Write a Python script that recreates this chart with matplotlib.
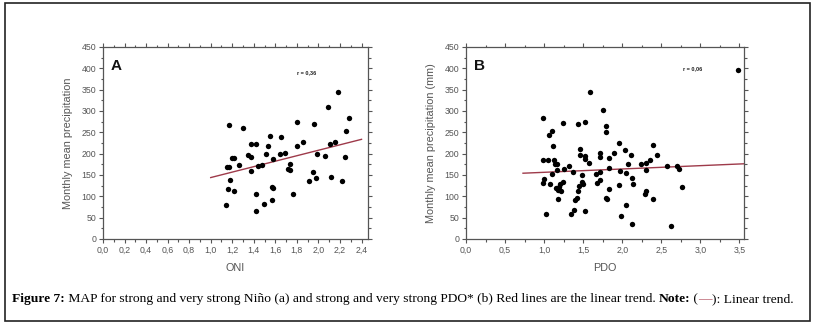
import matplotlib
matplotlib.use("Agg")
import matplotlib.pyplot as plt
import numpy as np
from matplotlib.patches import Rectangle
from matplotlib.ticker import MultipleLocator, FormatStrFormatter

# --- data ---
oni = [1.14, 1.15, 1.17, 1.16, 1.17, 1.18, 1.20, 1.22, 1.22, 1.26, 1.30, 1.35, 1.37,
       1.37, 1.37, 1.42, 1.42, 1.42, 1.44, 1.48, 1.49, 1.51, 1.53, 1.55, 1.57, 1.58,
       1.57, 1.58, 1.64, 1.65, 1.69, 1.72, 1.74, 1.74, 1.76, 1.80, 1.80, 1.86, 1.96,
       1.95, 1.91, 1.98, 1.99, 2.06, 2.09, 2.11, 2.12, 2.15, 2.18, 2.22, 2.25, 2.26, 2.28]
prec_a = [79, 168, 169, 118, 267, 139, 189, 190, 113, 174, 259, 196, 193, 223, 160,
          222, 106, 65, 171, 174, 83, 200, 218, 241, 123, 120, 92, 187, 199, 240, 202,
          163, 175, 161, 106, 275, 219, 227, 269, 156, 136, 144, 200, 194, 310, 222,
          146, 227, 344, 136, 193, 254, 284]

pdo = [0.99, 0.99, 1.05, 0.98, 1.00, 1.02, 1.06, 1.10, 1.08, 1.10, 1.12, 1.13, 1.14,
       1.16, 1.16, 1.15, 1.18, 1.18, 1.19, 1.21, 1.22, 1.24, 1.24, 1.26, 1.32, 1.35,
       1.37, 1.38, 1.40, 1.42, 1.44, 1.44, 1.45, 1.46, 1.46, 1.48, 1.49, 1.50, 1.52,
       1.52, 1.52, 1.53, 1.59, 1.57, 1.67, 1.68, 1.72, 1.72, 1.72, 1.72, 1.76, 1.79,
       1.79, 1.79, 1.81, 1.83, 1.83, 1.83, 1.89, 1.96, 1.96, 1.97, 1.98, 2.04, 2.05,
       2.05, 2.08, 2.11, 2.12, 2.14, 2.13, 2.24, 2.29, 2.30, 2.30, 2.31, 2.35, 2.40,
       2.40, 2.45, 2.57, 2.63, 2.70, 2.73, 2.77, 3.48]
prec_b = [284, 185, 185, 131, 140, 59, 243, 253, 130, 153, 218, 184, 175, 175, 161,
          119, 116, 93, 123, 129, 112, 133, 271, 164, 171, 59, 158, 68, 92, 95, 270,
          113, 125, 211, 198, 151, 134, 129, 275, 195, 188, 65, 345, 178, 153, 132,
          201, 192, 156, 138, 302, 266, 250, 97, 93, 191, 167, 118, 202, 224, 126,
          160, 54, 208, 154, 79, 175, 196, 144, 128, 34, 176, 106, 113, 161, 179,
          186, 220, 93, 198, 172, 30, 170, 164, 122, 397]

# linear trends as drawn in the figure: (x start, x end, intercept, slope)
trend_a = (1.0, 2.4, 80.0, 64.0)
trend_b = (0.73, 3.56, 148.5, 7.8)
r_a = "r = 0,36"
r_b = "r = 0,06"

grey = "#555555"

fig = plt.figure(figsize=(8.13, 3.30), dpi=100)
W, H = 813, 330


def px_axes(l, t, r, b):
    return fig.add_axes([l / W, 1 - b / H, (r - l) / W, (b - t) / H])


def style(ax, xmax, xmajor, xlabel, ylabel, letter, rtext, rpos):
    ax.set_xlim(0, xmax)
    ax.set_ylim(0, 450)
    ax.xaxis.set_major_locator(MultipleLocator(xmajor))
    ax.xaxis.set_minor_locator(MultipleLocator(xmajor / 2))
    ax.yaxis.set_major_locator(MultipleLocator(50))
    ax.yaxis.set_minor_locator(MultipleLocator(25))
    ax.xaxis.set_major_formatter(FormatStrFormatter("%.1f"))
    ax.set_xticklabels([f"{v:.1f}".replace(".", ",") for v in ax.get_xticks()])
    ax.tick_params(which="both", direction="out", colors=grey, labelsize=6.3,
                   labelcolor=grey, top=True, right=True, width=0.8, pad=2)
    ax.tick_params(which="major", length=3)
    ax.tick_params(which="minor", length=1.8)
    ax.tick_params(axis="x", which="both", top=True, labeltop=False)
    ax.tick_params(axis="y", which="both", right=True, labelright=False)
    for sp in ax.spines.values():
        sp.set_color(grey)
        sp.set_linewidth(0.9)
    ax.set_xlabel(xlabel, fontsize=7.8, color=grey, labelpad=6)
    ax.set_ylabel(ylabel, fontsize=7.8, color=grey, labelpad=6)
    ax.text(0.03, 0.94, letter, transform=ax.transAxes, fontsize=11,
            fontweight="bold", va="top", ha="left", color="#111111")
    ax.text(rpos[0], rpos[1], rtext, fontsize=4, color="#222222",
            ha="left", va="center", fontweight="bold")


plt.rcParams["font.family"] = ["Liberation Sans", "DejaVu Sans"]

ax_a = px_axes(103, 47, 368, 239)
ax_a.scatter(oni, prec_a, s=15, color="black", zorder=3, linewidths=0)
xa = np.array(trend_a[:2])
ax_a.plot(xa, trend_a[2] + trend_a[3] * xa, color="#9e3a4a", lw=1.0, zorder=2)
style(ax_a, 2.46, 0.2, "ONI", "Monthly mean precipitation", "A", r_a, (1.80, 390))

ax_b = px_axes(466, 47, 744, 239)
ax_b.scatter(pdo, prec_b, s=15, color="black", zorder=3, linewidths=0)
xb = np.array(trend_b[:2])
ax_b.plot(xb, trend_b[2] + trend_b[3] * xb, color="#9e3a4a", lw=1.0, zorder=2)
style(ax_b, 3.56, 0.5, "PDO", "Monthly mean precipitation (mm)", "B", r_b, (2.78, 400))

# outer frame
fig.add_artist(Rectangle((5 / W, 1 - 321 / H), 805 / W, 318 / H, transform=fig.transFigure,
                         fill=False, edgecolor="#222222", lw=1.2))

# caption, placed piece by piece
pieces = [("Figure 7:", "bold", "black"),
          (" MAP for strong and very strong Niño (a) and strong and very strong PDO* (b) "
           "Red lines are the linear trend. ", "normal", "black"),
          ("Note:", "bold", "black"),
          (" (", "normal", "black"),
          ("—", "normal", "#b04a5a"),
          ("): Linear trend.", "normal", "black")]
fig.canvas.draw()
renderer = fig.canvas.get_renderer()
x = 12 / W
y = 1 - 299 / H
for txt, weight, col in pieces:
    t = fig.text(x, y, txt, fontsize=9.7, fontweight=weight, color=col,
                 family=["Liberation Serif", "DejaVu Serif"], va="center", ha="left")
    bb = t.get_window_extent(renderer)
    x += bb.width / W

fig.savefig("out.png", dpi=100, facecolor="white")
